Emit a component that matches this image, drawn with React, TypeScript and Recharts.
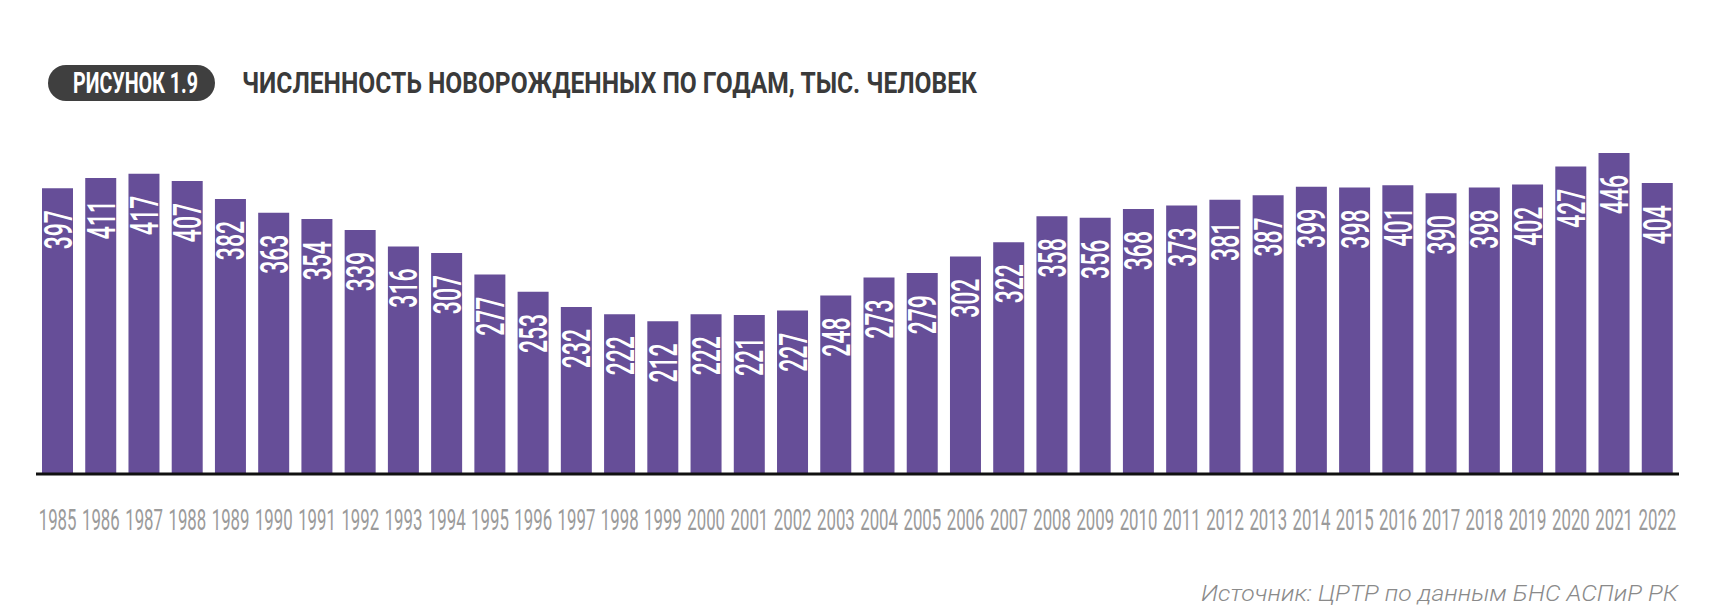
import { Bar, BarChart, LabelList, XAxis, YAxis } from "recharts";

const years = [
  "1985", "1986", "1987", "1988", "1989", "1990", "1991", "1992", "1993", "1994",
  "1995", "1996", "1997", "1998", "1999", "2000", "2001", "2002", "2003", "2004",
  "2005", "2006", "2007", "2008", "2009", "2010", "2011", "2012", "2013", "2014",
  "2015", "2016", "2017", "2018", "2019", "2020", "2021", "2022",
];

const births = [
  397, 411, 417, 407, 382, 363, 354, 339, 316, 307,
  277, 253, 232, 222, 212, 222, 221, 227, 248, 273,
  279, 302, 322, 358, 356, 368, 373, 381, 387, 399,
  398, 401, 390, 398, 402, 427, 446, 404,
];

const figureTag = "РИСУНОК 1.9";
const title = "ЧИСЛЕННОСТЬ НОВОРОЖДЕННЫХ ПО ГОДАМ, ТЫС. ЧЕЛОВЕК";
const source = "Источник: ЦРТР по данным БНС АСПиР РК";

const data = years.map((year, i) => ({ year, value: births[i] }));

const FONT = "Roboto, 'Noto Sans', sans-serif";

// condensed look: squeeze Roboto horizontally
const YearTick = (props: { x?: number; y?: number; payload?: { value: string } }) => {
  const { x = 0, y = 0, payload } = props;
  return (
    <text
      transform={`translate(${x}, ${y + 48}) scale(0.56, 1)`}
      textAnchor="middle"
      fontFamily={FONT}
      fontSize={30}
      fontWeight={400}
      fill="#9b9b9b"
    >
      {payload?.value}
    </text>
  );
};

const BarValue = (props: any) => {
  const { x = 0, y = 0, width = 0, value } = props;
  const cx = Number(x) + Number(width) / 2;
  return (
    <text
      transform={`translate(${cx + 14}, ${Number(y) + 22}) rotate(-90) scale(0.59, 1)`}
      textAnchor="end"
      fontFamily={FONT}
      fontSize={39}
      fontWeight={500}
      fill="#ffffff"
    >
      {value}
    </text>
  );
};

export default function App() {
  return (
    <div style={{ position: "absolute", left: 0, top: 0, width: 1714, height: 612, background: "#fff" }}>
      <BarChart
        width={1714}
        height={612}
        data={data}
        margin={{ top: 114, right: 35, left: 36, bottom: 108 }}
      >
        <YAxis hide domain={[0, 500]} />
        <XAxis
          dataKey="year"
          interval={0}
          height={30}
          tickLine={false}
          axisLine={{ stroke: "#111", strokeWidth: 3 }}
          tick={<YearTick />}
        />
        <Bar dataKey="value" fill="#664e98" barSize={31} isAnimationActive={false}>
          <LabelList dataKey="value" content={<BarValue />} />
        </Bar>
      </BarChart>
      <svg
        width={1714}
        height={612}
        style={{ position: "absolute", left: 0, top: 0, pointerEvents: "none" }}
      >
        <rect x={48} y={65} width={167} height={36} rx={18} fill="#3f3f3f" />
        <text
          x={73}
          y={93}
          fontFamily={FONT}
          fontSize={29}
          fontWeight={700}
          fill="#ffffff"
          textLength={125}
          lengthAdjust="spacingAndGlyphs"
        >
          {figureTag}
        </text>
        <text
          x={242}
          y={93}
          fontFamily={FONT}
          fontSize={29}
          fontWeight={700}
          fill="#3a3a3a"
          textLength={735}
          lengthAdjust="spacingAndGlyphs"
        >
          {title}
        </text>
        <text
          x={1678}
          y={601}
          textAnchor="end"
          fontFamily={FONT}
          fontSize={22.5}
          fontStyle="italic"
          fontWeight={300}
          fill="#8a8a8a"
          textLength={477}
          lengthAdjust="spacingAndGlyphs"
        >
          {source}
        </text>
      </svg>
    </div>
  );
}
